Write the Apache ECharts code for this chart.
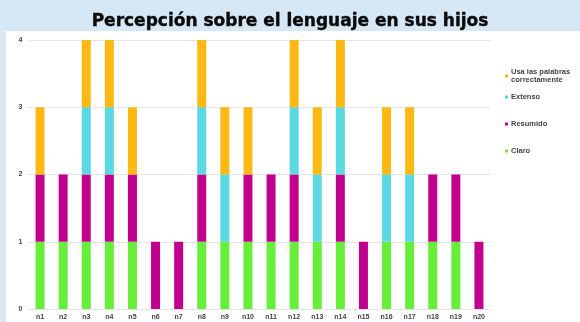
<!DOCTYPE html>
<html>
<head>
<meta charset="utf-8">
<script src="https://cdn.jsdelivr.net/npm/echarts@6/dist/echarts.min.js"></script>
<style>
  html, body { margin: 0; padding: 0; background: #d6e7f6; }
  #chart { width: 580px; height: 322px; }
</style>
</head>
<body>
<div id="chart"></div>
<script>
// Categories (children) and per-category answers (1 = marked, 0 = not)
const categories = ['n1','n2','n3','n4','n5','n6','n7','n8','n9','n10','n11','n12','n13','n14','n15','n16','n17','n18','n19','n20'];
const claro     = [1,1,1,1,1,0,0,1,1,1,1,1,1,1,0,1,1,1,1,0];
const resumido  = [1,1,1,1,1,1,1,1,0,1,1,1,0,1,1,0,0,1,1,1];
const extenso   = [0,0,1,1,0,0,0,1,1,0,0,1,1,1,0,1,1,0,0,0];
const usaPalabras = [1,0,1,1,1,0,0,1,1,1,0,1,1,1,0,1,1,0,0,0];
const yTicks = [0, 1, 2, 3, 4];

const USA = 'Usa las palabras\ncorrectamente';

const chart = echarts.init(document.getElementById('chart'), null, { renderer: 'canvas' });

const mk = (name, data, color) => ({
  name, type: 'bar', stack: 'total', data,
  barWidth: 9, itemStyle: { color }, emphasis: { disabled: true }
});

const legendText = { fontFamily: 'Liberation Sans', fontSize: 7.5, fontWeight: 'bold', color: '#444444', padding: [0, 0, 0, -2], lineHeight: 8 };

chart.setOption({
  backgroundColor: '#d6e7f6',
  animation: false,
  graphic: [{
    type: 'rect', left: 6, top: 31, z: -10,
    shape: { width: 574, height: 291 },
    style: { fill: '#ffffff' }
  }],
  title: {
    text: 'Percepción sobre el lenguaje en sus hijos',
    left: 'center', top: 8,
    textStyle: { fontFamily: 'DejaVu Sans', fontWeight: 'bold', fontSize: 17, color: '#0a0a0a', textBorderColor: '#0a0a0a', textBorderWidth: 0.4 }
  },
  legend: [{
    orient: 'vertical', left: 505, top: 68, padding: 0,
    itemWidth: 3, itemHeight: 3, icon: 'rect',
    data: [USA], textStyle: legendText
  }, {
    orient: 'vertical', left: 505, top: 93, padding: 0,
    itemWidth: 3, itemHeight: 3, itemGap: 19, icon: 'rect',
    data: ['Extenso', 'Resumido', 'Claro'], textStyle: legendText
  }],
  grid: { left: 28.5, right: 89.5, top: 40, bottom: 13, containLabel: false },
  xAxis: {
    type: 'category', data: categories,
    axisLine: { show: false }, axisTick: { show: false },
    axisLabel: { fontFamily: 'Liberation Sans', fontSize: 7, fontWeight: 'bold', color: '#444444', margin: 5 }
  },
  yAxis: {
    type: 'value', min: yTicks[0], max: yTicks[yTicks.length - 1], interval: 1,
    axisLine: { show: false }, axisTick: { show: false },
    axisLabel: { fontFamily: 'Liberation Sans', fontSize: 7, fontWeight: 'bold', color: '#444444', margin: 6 },
    splitLine: { lineStyle: { color: '#e4e4e4', width: 1 } }
  },
  series: [
    mk('Claro', claro, '#66ee38'),
    mk('Resumido', resumido, '#c2008e'),
    mk('Extenso', extenso, '#5ad9e2'),
    mk(USA, usaPalabras, '#fdb913')
  ]
});
</script>
</body>
</html>
